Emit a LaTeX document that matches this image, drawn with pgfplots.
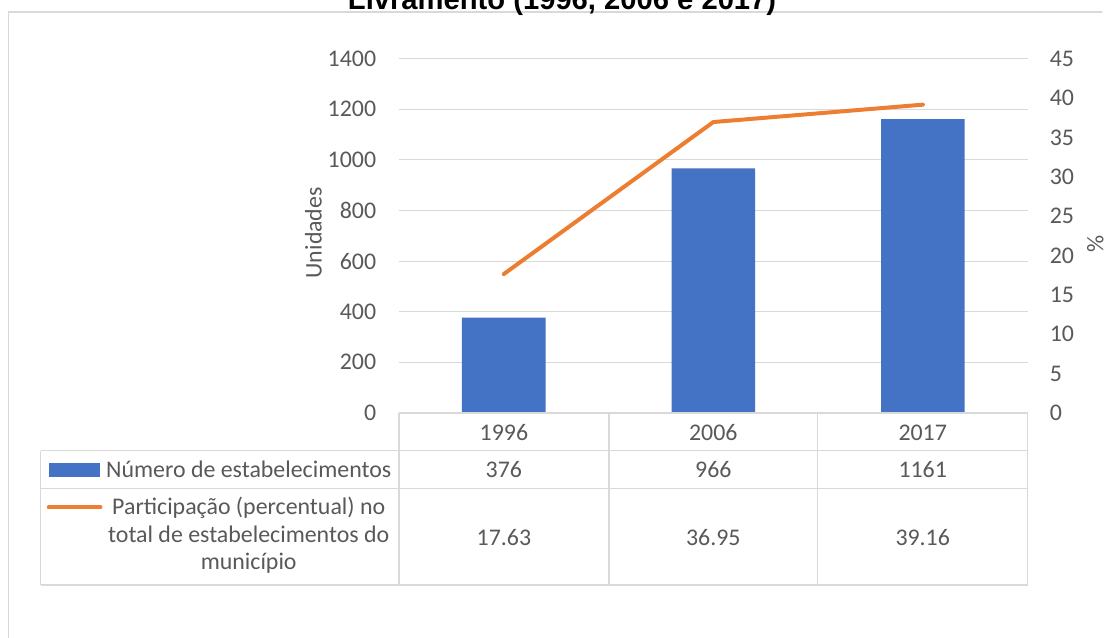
\documentclass[border=0pt]{standalone}
\usepackage{pgfplots}
\usepackage{pgfplotstable}
\pgfplotsset{compat=1.18}
\usepackage{fontspec}
\setmainfont{Carlito}
\newfontfamily\titlefont{Liberation Sans}
\definecolor{barblue}{HTML}{4472C4}
\definecolor{lineorange}{HTML}{ED7D31}
\definecolor{gridgray}{HTML}{D9D9D9}
\definecolor{txtgray}{HTML}{595959}

\pgfplotstableread{
x year n pct
0 1996 376 17.63
1 2006 966 36.95
2 2017 1161 39.16
}\datatable

\begin{document}
\begin{tikzpicture}
\begin{scope}[x=0.75pt,y=0.75pt]
\useasboundingbox (0,0) rectangle (1108,641);
\clip (0,0) rectangle (1108,641);
\fill[white] (0,0) rectangle (1108,641);
% outer chart border
\draw[gridgray, line width=0.9pt] (8.5,-5) -- (8.5,641-12) -- (1115,641-12);
% title (clipped at the top)
\node[anchor=base, inner sep=0pt, font=\titlefont\bfseries\fontsize{22}{26}\selectfont] at (565,641-9.5) {Livramento (1996, 2006 e 2017)};
\end{scope}

\begin{axis}[
  at={(300.75pt,169.5pt)}, anchor=south west, scale only axis,
  width=474pt, height=267pt,
  xmin=-0.5, xmax=2.5, ymin=0, ymax=1400, ytick distance=200,
  xtick=\empty, axis line style={draw=none}, major tick style={draw=none},
  ymajorgrids, grid style={gridgray, line width=0.75pt},
  /pgf/number format/assume math mode=true,
  /pgf/number format/1000 sep={},
  yticklabel style={font=\fontsize{18}{21}\selectfont, text=txtgray, inner sep=0pt, anchor=east, xshift=-17pt},
  clip=false,
]
\addplot[ybar, bar width=63pt, fill=barblue, draw=none] table[x=x,y=n]{\datatable};
\end{axis}

\begin{axis}[
  at={(300.75pt,169.5pt)}, anchor=south west, scale only axis,
  width=474pt, height=267pt,
  xmin=-0.5, xmax=2.5, ymin=0, ymax=45, ytick distance=5,
  axis y line*=right, hide x axis,
  axis line style={draw=none}, major tick style={draw=none},
  /pgf/number format/assume math mode=true,
  yticklabel style={font=\fontsize{18}{21}\selectfont, text=txtgray, inner sep=0pt, anchor=west, xshift=16.5pt},
  clip=false,
]
\addplot[lineorange, line width=3pt, line cap=round, line join=round, mark=none] table[x=x,y=pct]{\datatable};
\end{axis}

\begin{scope}[x=0.75pt,y=0.75pt]
% axis titles
\node[rotate=90, font=\fontsize{18}{21}\selectfont, text=txtgray] at (315,641-234) {Unidades};
\node[rotate=90, font=\fontsize{18}{21}\selectfont, text=txtgray] at (1101,641-245) {\%};

% data table
\begin{scope}[gridgray, line width=1pt]
\draw (401,641-415) -- (1033,641-415);
\draw (41,641-453) -- (1033,641-453);
\draw (41,641-491) -- (1033,641-491);
\draw (41,641-588) -- (1033,641-588);
\draw (41,641-453) -- (41,641-588);
\draw (401,641-415) -- (401,641-588);
\draw (612,641-415) -- (612,641-588);
\draw (822,641-415) -- (822,641-588);
\draw (1033,641-415) -- (1033,641-588);
\end{scope}

\begin{scope}[every node/.style={font=\fontsize{18}{21}\selectfont, text=txtgray, inner sep=0pt}]
\node at (506.5,641-435) {1996};
\node at (717,641-435) {2006};
\node at (927.5,641-435) {2017};
\node at (250,641-472) {Número de estabelecimentos};
\node at (506.5,641-472) {376};
\node at (717,641-472) {966};
\node at (927.5,641-472) {1161};
\node[align=center] at (250,641-538) {Participação (percentual) no\\total de estabelecimentos do\\município};
\node at (506.5,641-540) {17.63};
\node at (717,641-540) {36.95};
\node at (927.5,641-540) {39.16};
\end{scope}
\fill[barblue] (49,641-479) rectangle (101,641-465);
\draw[lineorange, line width=3pt, line cap=round] (49,641-510) -- (101,641-510);
\end{scope}
\end{tikzpicture}
\end{document}
